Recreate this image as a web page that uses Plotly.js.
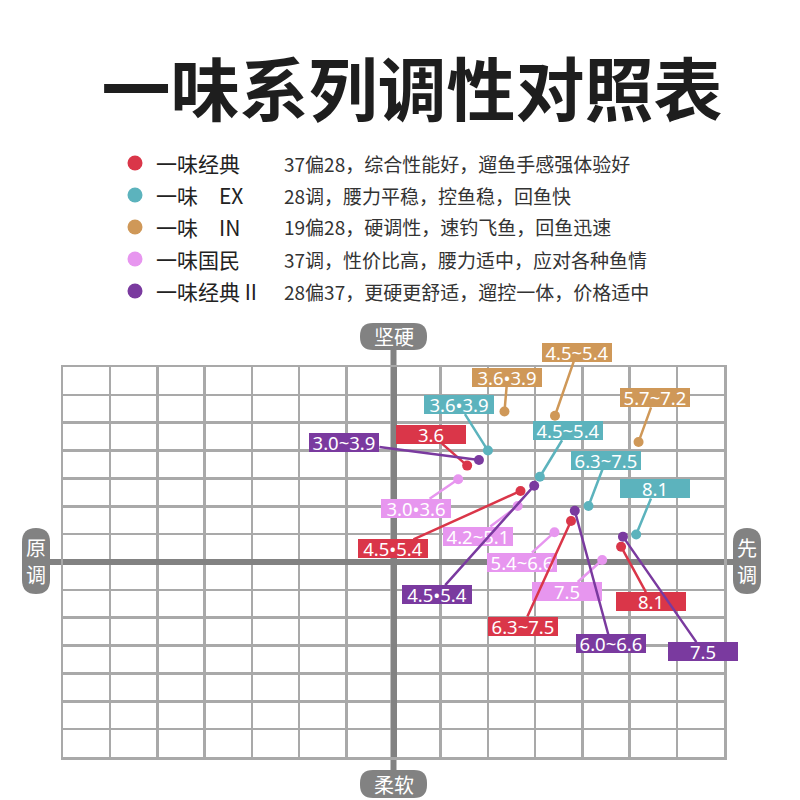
<!DOCTYPE html>
<html>
<head>
<meta charset="utf-8">
<script src="https://cdn.plot.ly/plotly-3.0.1.min.js"></script>
<style>html,body{margin:0;padding:0;background:#fff;}#chart{width:800px;height:800px;}</style>
</head>
<body>
<div id="chart"></div>
<script>
// ---------- DATA ----------
const chartTitle = '一味系列调性对照表';
const seriesNames = ['一味经典', '一味\u2003EX', '一味\u2003IN', '一味国民', '一味经典 II'];
const seriesDescs = [
  '37偏28，综合性能好，遛鱼手感强体验好',
  '28调，腰力平稳，控鱼稳，回鱼快',
  '19偏28，硬调性，速钓飞鱼，回鱼迅速',
  '37调，性价比高，腰力适中，应对各种鱼情',
  '28偏37，更硬更舒适，遛控一体，价格适中'
];
const xVals = [
  [1.56, 2.69, 3.76, 4.82],
  [2.00, 3.10, 4.13, 5.14],
  [2.35, 3.42, 5.19],
  [1.37, 2.63, 3.41, 4.42],
  [1.81, 2.98, 3.84, 4.86]
];
const yVals = [
  [3.46, 2.55, 1.47, 0.55],
  [4.00, 3.06, 2.01, 0.99],
  [5.40, 5.25, 4.31],
  [2.97, 2.01, 1.07, 0.07],
  [3.66, 2.74, 1.84, 0.91]
];
const pointLabels = [
  ['3.6', '4.5•5.4', '6.3~7.5', '8.1'],
  ['3.6•3.9', '4.5~5.4', '6.3~7.5', '8.1'],
  ['3.6•3.9', '4.5~5.4', '5.7~7.2'],
  ['3.0•3.6', '4.2~5.1', '5.4~6.6', '7.5'],
  ['3.0~3.9', '4.5•5.4', '6.0~6.6', '7.5']
];
const axisLabels = {top: '坚硬', bottom: '柔软', left: '原调', right: '先调'};

// ---------- STYLE / LAYOUT ----------
const colors = ['#da3649', '#5cb3bd', '#cf9858', '#e796ef', '#7a3a9f'];
// label box offsets (pixels) from each point
const labelOffsets = [
  [[-36, -31.5], [-128, 58], [-48, 105], [30, 55]],
  [[-29, -46], [28, -46], [17.5, -46], [18.7, -45.5]],
  [[3, -34.5], [22, -63.7], [16, -44]],
  [[-42.5, 29], [-40, 30], [-33, 30], [-35, 31.5]],
  [[-134.5, -17.5], [-97.5, 109], [36, 133], [80, 115]]
];
const drawOrder = [2, 1, 3, 0, 4];

const M = {l: 63, r: 76, t: 367, b: 43};
const PW = 800 - M.l - M.r, PH = 800 - M.t - M.b;
const px = x => (x - M.l) / PW;
const py = y => (800 - M.b - y) / PH;

function roundRect(x0, y0, x1, y1, r) {
  const P = (x, y) => px(x).toFixed(5) + ',' + py(y).toFixed(5);
  return 'M' + P(x0 + r, y0) + ' L' + P(x1 - r, y0) + ' Q' + P(x1, y0) + ' ' + P(x1, y0 + r) +
    ' L' + P(x1, y1 - r) + ' Q' + P(x1, y1) + ' ' + P(x1 - r, y1) +
    ' L' + P(x0 + r, y1) + ' Q' + P(x0, y1) + ' ' + P(x0, y1 - r) +
    ' L' + P(x0, y0 + r) + ' Q' + P(x0, y0) + ' ' + P(x0 + r, y0) + ' Z';
}

const traces = [];
const annotations = [];
const shapes = [];

drawOrder.forEach(i => {
  traces.push({
    type: 'scatter', mode: 'markers', name: seriesNames[i],
    x: xVals[i], y: yVals[i],
    marker: {color: colors[i], size: 10},
    hoverinfo: 'skip', showlegend: false
  });
  xVals[i].forEach((xv, j) => {
    annotations.push({
      x: xv, y: yVals[i][j], xref: 'x', yref: 'y',
      text: pointLabels[i][j], showarrow: true,
      ax: labelOffsets[i][j][0], ay: labelOffsets[i][j][1],
      arrowhead: 0, arrowwidth: 2.5, arrowcolor: colors[i],
      standoff: 0, startstandoff: 0,
      bgcolor: colors[i], borderpad: 1, borderwidth: 0,
      width: 68, height: 17,
      font: {family: 'Noto Sans, Open Sans, sans-serif', size: 18.5, color: '#ffffff'}
    });
  });
});

// thick axes extended beyond the grid
const axisGrey = '#828282';
shapes.push({type: 'line', xref: 'paper', yref: 'paper', x0: px(393.5), x1: px(393.5), y0: py(340), y1: py(782),
  line: {color: axisGrey, width: 6}, layer: 'below'});
shapes.push({type: 'line', xref: 'paper', yref: 'paper', x0: px(36), x1: px(748), y0: py(562), y1: py(562),
  line: {color: axisGrey, width: 6}, layer: 'below'});

// rounded axis label boxes
const boxes = [
  {k: 'top', b: [360, 323, 427, 350], r: 13},
  {k: 'bottom', b: [360, 770, 427, 798], r: 13},
  {k: 'left', b: [22, 528, 50, 594], r: 14},
  {k: 'right', b: [733, 528, 761, 594], r: 14}
];
boxes.forEach(bx => {
  const [x0, y0, x1, y1] = bx.b;
  shapes.push({type: 'path', xref: 'paper', yref: 'paper', path: roundRect(x0, y0, x1, y1, bx.r),
    fillcolor: axisGrey, line: {width: 0}, layer: 'above'});
  const vertical = (bx.k === 'left' || bx.k === 'right');
  const t = axisLabels[bx.k];
  const font = {family: 'Noto Sans CJK SC, sans-serif', size: 20, color: '#ffffff'};
  const cx = px((x0 + x1) / 2);
  if (vertical) {
    const cy = (y0 + y1) / 2;
    [cy - 13.5, cy + 13.5].forEach((yy, k) => {
      annotations.push({xref: 'paper', yref: 'paper', x: cx, y: py(yy), xanchor: 'center', yanchor: 'middle',
        showarrow: false, text: t[k], font: font});
    });
  } else {
    annotations.push({xref: 'paper', yref: 'paper', x: cx, y: py((y0 + y1) / 2),
      xanchor: 'center', yanchor: 'middle', showarrow: false, text: t, font: font});
  }
});

// legend rows
const legendY0 = 163, legendStep = 32;
seriesNames.forEach((n, i) => {
  const yy = legendY0 + i * legendStep;
  shapes.push({type: 'circle', xref: 'paper', yref: 'paper',
    x0: px(127.5), x1: px(142.5), y0: py(yy - 7.5), y1: py(yy + 7.5),
    fillcolor: colors[i], line: {width: 0}});
  annotations.push({xref: 'paper', yref: 'paper', x: px(154), y: py(yy), xanchor: 'left', yanchor: 'middle',
    showarrow: false, text: n, font: {family: 'Noto Sans CJK SC, sans-serif', size: 21, color: '#222222'}});
  annotations.push({xref: 'paper', yref: 'paper', x: px(282), y: py(yy), xanchor: 'left', yanchor: 'middle',
    showarrow: false, text: seriesDescs[i], font: {family: 'Noto Sans CJK SC, sans-serif', size: 19, color: '#333333'}});
});

const layout = {
  width: 800, height: 800,
  margin: M,
  paper_bgcolor: '#ffffff', plot_bgcolor: 'rgba(0,0,0,0)',
  showlegend: false,
  title: {text: chartTitle, x: px(412), xanchor: 'center', xref: 'paper',
    y: 1 - 92 / 800, yanchor: 'middle', yref: 'container',
    font: {family: 'Noto Sans CJK SC, sans-serif', size: 69, color: '#1e1e1e', weight: 'bold'}},
  xaxis: {range: [-7, 7], dtick: 1, tick0: 0, showgrid: true, gridcolor: '#a9a9a9', gridwidth: 2.5,
    zeroline: true, zerolinecolor: axisGrey, zerolinewidth: 6,
    showline: true, mirror: true, linecolor: '#a9a9a9', linewidth: 2.5,
    showticklabels: false, ticks: '', fixedrange: true},
  yaxis: {range: [-7, 7], dtick: 1, tick0: 0, showgrid: true, gridcolor: '#a9a9a9', gridwidth: 2.5,
    zeroline: true, zerolinecolor: axisGrey, zerolinewidth: 6,
    showline: true, mirror: true, linecolor: '#a9a9a9', linewidth: 2.5,
    showticklabels: false, ticks: '', fixedrange: true},
  shapes: shapes,
  annotations: annotations
};

Plotly.newPlot('chart', traces, layout, {displayModeBar: false, staticPlot: true});
</script>
</body>
</html>
